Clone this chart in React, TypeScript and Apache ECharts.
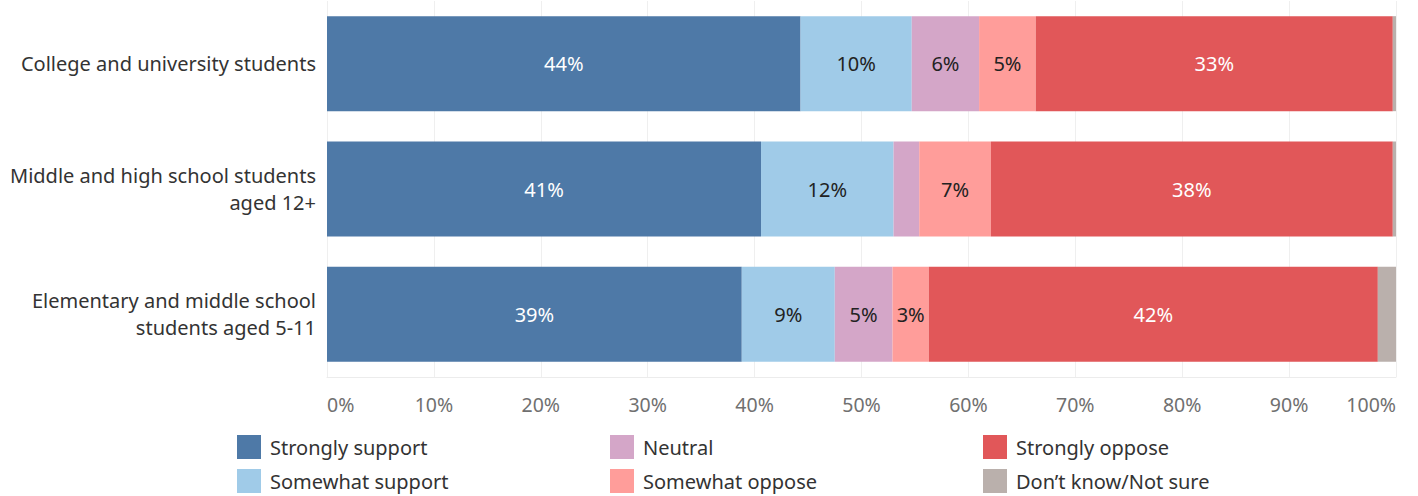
import React, { useEffect, useRef } from "react";
import * as echarts from "echarts";

const categories = [
  "College and university students",
  "Middle and high school students\naged 12+",
  "Elementary and middle school\nstudents aged 5-11",
];
const seriesNames = [
  "Strongly support",
  "Somewhat support",
  "Neutral",
  "Somewhat oppose",
  "Strongly oppose",
  "Don’t know/Not sure",
];
const stronglySupport = [44.3, 40.6, 38.8];
const somewhatSupport = [10.4, 12.4, 8.7];
const neutral = [6.3, 2.4, 5.4];
const somewhatOppose = [5.3, 6.7, 3.4];
const stronglyOppose = [33.4, 37.6, 42.0];
const dontKnow = [0.3, 0.3, 1.7];
const xTicks = [0, 10, 20, 30, 40, 50, 60, 70, 80, 90, 100];

const colors = ["#4e79a7", "#a0cbe8", "#d4a6c8", "#ff9d9a", "#e15759", "#bab0ac"];
const labelColors = ["#ffffff", "#222222", "#222222", "#222222", "#ffffff", "#222222"];
const FONT = "'Noto Sans', sans-serif";

export default function App() {
  const ref = useRef<HTMLDivElement>(null);
  useEffect(() => {
    if (!ref.current) return;
    const chart = echarts.init(ref.current, null, { renderer: "svg" });
    const values = [stronglySupport, somewhatSupport, neutral, somewhatOppose, stronglyOppose, dontKnow];
    const series = seriesNames.map((name, i) => ({
      name,
      type: "bar",
      stack: "total",
      barWidth: 95,
      data: values[i],
      itemStyle: { color: colors[i] },
      label: {
        show: true,
        position: "inside",
        fontFamily: FONT,
        fontSize: 20,
        color: labelColors[i],
        formatter: (p: any) => (p.value >= 3 ? Math.round(p.value) + "%" : ""),
      },
      emphasis: { disabled: true },
    }));
    const legendLefts = [237, 237, 610, 610, 983, 983];
    const legendTops = [435, 469, 435, 469, 435, 469];
    const legends = seriesNames.map((name, i) => ({
      orient: "horizontal",
      left: legendLefts[i],
      top: legendTops[i],
      padding: 0,
      itemWidth: 24,
      itemHeight: 24,
      icon: "rect",
      selectedMode: false,
      data: [name],
      textStyle: { fontFamily: FONT, fontSize: 20, color: "#333", padding: [0, 0, 0, 4] },
    }));
    chart.setOption({
      animation: false,
      color: colors,
      textStyle: { fontFamily: FONT },
      grid: { left: 327, right: 22, top: 1, bottom: 119, containLabel: false },
      legend: legends,
      xAxis: {
        type: "value",
        min: xTicks[0],
        max: xTicks[xTicks.length - 1],
        interval: 10,
        axisLine: { show: true, lineStyle: { color: "#ececec", width: 1 } },
        axisTick: { show: false },
        splitLine: { show: true, lineStyle: { color: "#efefef", width: 1 } },
        axisLabel: {
          formatter: "{value}%",
          fontFamily: FONT,
          fontSize: 19.5,
          color: "#707070",
          margin: 17,
          alignMinLabel: "left",
          alignMaxLabel: "right",
        },
      },
      yAxis: {
        type: "category",
        data: categories,
        inverse: true,
        axisLine: { show: false },
        axisTick: { show: false },
        axisLabel: {
          fontFamily: FONT,
          fontSize: 20,
          color: "#333",
          margin: 11,
          lineHeight: 27,
          align: "right",
        },
      },
      series,
    });
    return () => chart.dispose();
  }, []);
  return (
    <div
      ref={ref}
      style={{ position: "absolute", left: 0, top: 0, width: 1418, height: 496 }}
    />
  );
}
